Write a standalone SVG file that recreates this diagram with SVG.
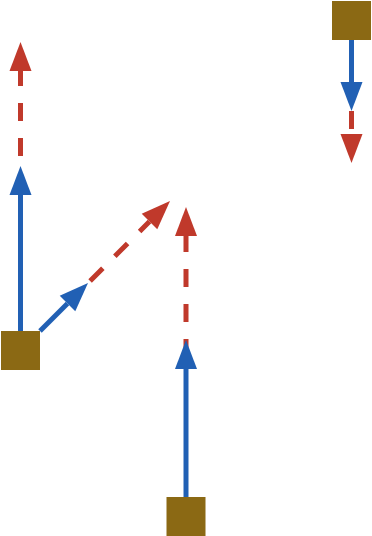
<svg xmlns="http://www.w3.org/2000/svg" width="372" height="536" viewBox="0 0 372 536">
  <style>
    .node { fill: #8b6914; }
    .blue { stroke: #2160b4; stroke-width: 5; fill: none; marker-end: url(#ab); }
    .red { stroke: #c0392b; stroke-width: 5; fill: none; stroke-dasharray: 18 17; marker-end: url(#ar); }
  </style>
  <defs>
    <marker id="ab" markerUnits="userSpaceOnUse" markerWidth="29" markerHeight="22" refX="0" refY="11" orient="auto" overflow="visible">
      <path d="M0,0 L29,11 L0,22 z" fill="#2160b4"/>
    </marker>
    <marker id="ar" markerUnits="userSpaceOnUse" markerWidth="29" markerHeight="22" refX="0" refY="11" orient="auto" overflow="visible">
      <path d="M0,0 L29,11 L0,22 z" fill="#c0392b"/>
    </marker>
  </defs>
  <rect width="372" height="536" fill="#ffffff"/>
  <g id="connectors">
    <line class="red" x1="20.5" y1="191" x2="20.5" y2="71"/>
    <line class="blue" x1="20.5" y1="331" x2="20.5" y2="195"/>
    <line class="red" x1="90.1" y1="280.9" x2="149.5" y2="221.5"/>
    <line class="blue" x1="40" y1="331" x2="67.5" y2="303.5"/>
    <line class="red" x1="186" y1="357" x2="186" y2="236"/>
    <line class="blue" x1="186" y1="497" x2="186" y2="369"/>
    <line class="red" x1="351.5" y1="111" x2="351.5" y2="134"/>
    <line class="blue" x1="351.5" y1="40" x2="351.5" y2="82"/>
  </g>
  <g id="node-left">
    <rect class="node" x="1" y="331" width="39" height="39"/>
  </g>
  <g id="node-bottom">
    <rect class="node" x="166.5" y="497" width="39" height="39"/>
  </g>
  <g id="node-topright">
    <rect class="node" x="332" y="1" width="39" height="39"/>
  </g>
</svg>
